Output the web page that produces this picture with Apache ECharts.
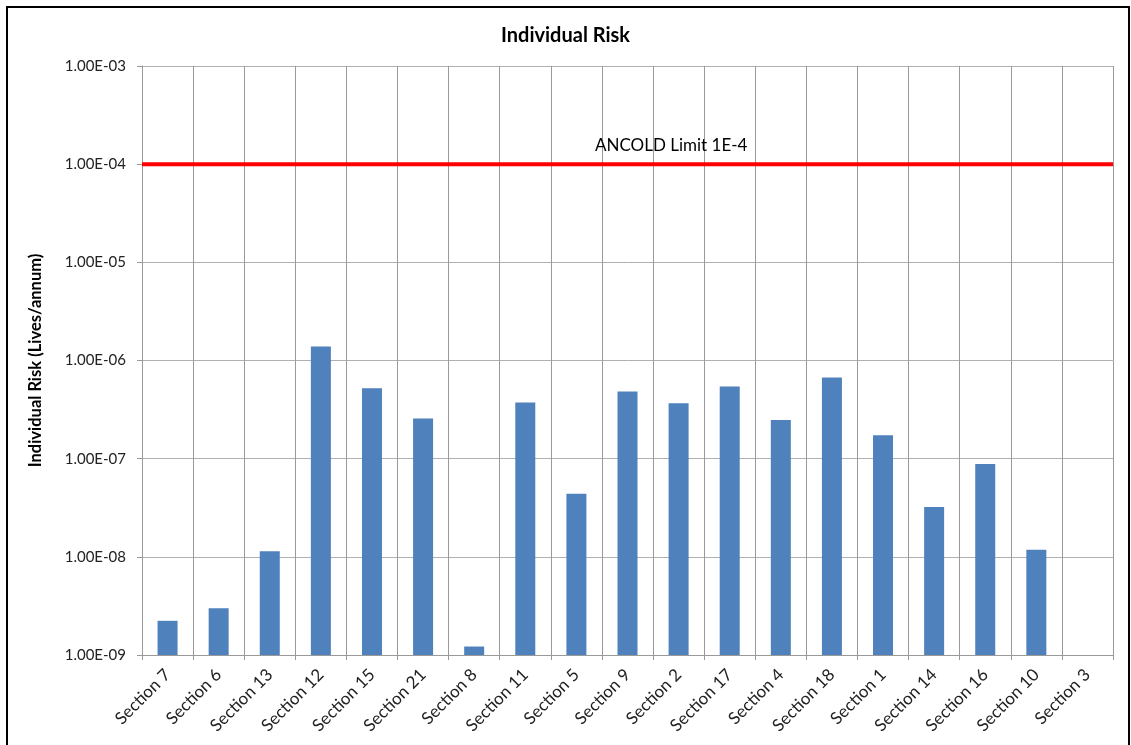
<!DOCTYPE html>
<html>
<head>
<meta charset="utf-8">
<title>Individual Risk</title>
<script src="https://cdn.jsdelivr.net/npm/echarts@6/dist/echarts.min.js"></script>
<style>
  html, body { margin: 0; padding: 0; background: #fff; }
  #chart { width: 1131px; height: 745px; }
</style>
</head>
<body>
<div id="chart"></div>
<script>
// Sections, in the order they are plotted
const sections = [
  'Section 7', 'Section 6', 'Section 13', 'Section 12', 'Section 15', 'Section 21',
  'Section 8', 'Section 11', 'Section 5', 'Section 9', 'Section 2', 'Section 17',
  'Section 4', 'Section 18', 'Section 1', 'Section 14', 'Section 16', 'Section 10',
  'Section 3'
];

// Individual risk per section (lives/annum); Section 3 has no value
const individualRisk = [
  2.23e-9, 2.99e-9, 1.14e-8, 1.39e-6, 5.23e-7, 2.56e-7,
  1.22e-9, 3.73e-7, 4.38e-8, 4.83e-7, 3.67e-7, 5.43e-7,
  2.47e-7, 6.70e-7, 1.73e-7, 3.21e-8, 8.85e-8, 1.18e-8,
  null
];

// ANCOLD tolerability limit
const ancoldLimit = 1e-4;
const ancoldLabel = 'ANCOLD Limit 1E-4';

// Value axis range
const yMin = 1e-9;
const yMax = 1e-3;

const FONT = 'Lato, "Open Sans", "Liberation Sans", sans-serif';

// 1e-4 -> "1.00E-04"
function sci(v) {
  const s = Number(v).toExponential(2).toUpperCase();
  return s.replace(/E([+-])(\d)$/, 'E$10$2');
}

// The limit line runs across the full plot width on a hidden 0..1 axis;
// its label sits on the middle point.
const limitLine = [
  [0, ancoldLimit],
  { value: [0.545, ancoldLimit], label: { show: true } },
  [1, ancoldLimit]
];

const chart = echarts.init(document.getElementById('chart'), null, { renderer: 'canvas' });

chart.setOption({
  animation: false,
  backgroundColor: '#ffffff',
  textStyle: { fontFamily: FONT },
  title: {
    text: 'Individual Risk',
    left: 'center',
    top: 21,
    textStyle: { fontFamily: FONT, fontSize: 20, fontWeight: 'bold', color: '#000' }
  },
  graphic: [{
    type: 'rect',
    shape: { x: 7, y: 7, width: 1122, height: 760 },
    style: { fill: 'none', stroke: '#000', lineWidth: 2 },
    silent: true
  }],
  grid: { left: 142, right: 18, top: 66, bottom: 90, containLabel: false },
  xAxis: [{
    type: 'category',
    data: sections,
    boundaryGap: true,
    axisLine: { show: true, lineStyle: { color: '#999', width: 1 } },
    axisTick: { show: true, length: 5, interval: 0, alignWithLabel: false, lineStyle: { color: '#999' } },
    splitLine: { show: true, interval: 0, lineStyle: { color: '#999', width: 1 } },
    axisLabel: {
      interval: 0,
      rotate: 45,
      margin: 17,
      fontFamily: FONT,
      fontSize: 17,
      color: '#222'
    }
  }, {
    type: 'value',
    min: 0,
    max: 1,
    show: false
  }],
  yAxis: {
    type: 'log',
    logBase: 10,
    min: yMin,
    max: yMax,
    interval: 1,
    startValue: yMin,
    name: 'Individual Risk (Lives/annum)',
    nameLocation: 'middle',
    nameGap: 98,
    nameTextStyle: { fontFamily: FONT, fontSize: 16.5, fontWeight: 'bold', color: '#000' },
    axisLine: { show: true, lineStyle: { color: '#999', width: 1 } },
    axisTick: { show: true, length: 5, lineStyle: { color: '#999' } },
    splitLine: { show: true, lineStyle: { color: '#b0b0b0', width: 1 } },
    axisLabel: {
      formatter: sci,
      margin: 16,
      fontFamily: FONT,
      fontSize: 15,
      color: '#222'
    }
  },
  series: [{
    type: 'bar',
    name: 'Individual Risk',
    data: individualRisk,
    barWidth: 20,
    itemStyle: { color: '#4f81bd' }
  }, {
    type: 'line',
    name: ancoldLabel,
    xAxisIndex: 1,
    yAxisIndex: 0,
    data: limitLine,
    symbol: 'circle',
    symbolSize: 1,
    showSymbol: true,
    itemStyle: { color: 'rgba(255,0,0,0)' },
    lineStyle: { color: '#ff0000', width: 4 },
    label: {
      show: false,
      position: 'top',
      distance: 10,
      formatter: ancoldLabel,
      fontFamily: FONT,
      fontSize: 17,
      color: '#000'
    },
    z: 5
  }]
});
</script>
</body>
</html>
